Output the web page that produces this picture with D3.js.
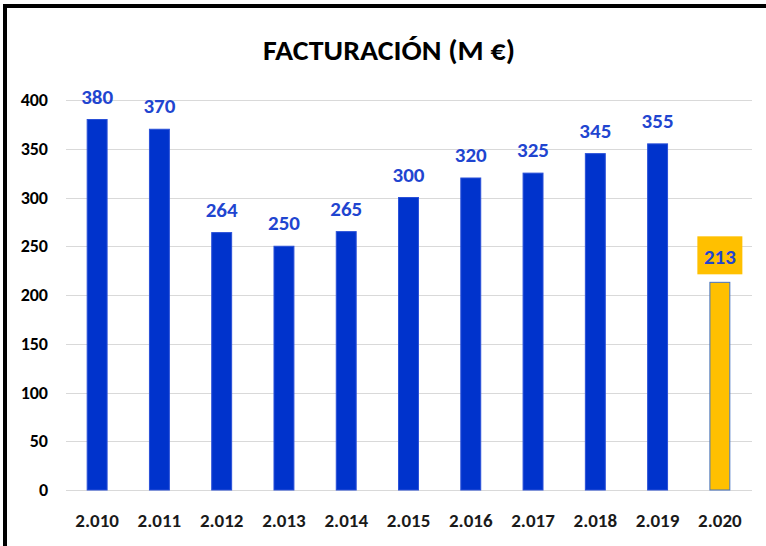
<!DOCTYPE html>
<html>
<head>
<meta charset="utf-8">
<script src="https://cdn.jsdelivr.net/npm/d3@7"></script>
<style>
  body { margin: 0; background: #fff; }
  svg { display: block; }
  text { font-family: Carlito, Lato, "Open Sans", sans-serif; font-weight: bold; }
</style>
</head>
<body>
<svg id="chart"></svg>
<script>
const years = ["2.010", "2.011", "2.012", "2.013", "2.014", "2.015", "2.016", "2.017", "2.018", "2.019", "2.020"];
const values = [380, 370, 264, 250, 265, 300, 320, 325, 345, 355, 213];
const yTicks = [0, 50, 100, 150, 200, 250, 300, 350, 400];
const highlightYear = "2.020";

const width = 766, height = 546;
const plotLeft = 66, plotRight = 752, plotTop = 100, plotBottom = 490;

const svg = d3.select("#chart").attr("width", width).attr("height", height);

// frame lines (left + top)
svg.append("rect").attr("x", 3).attr("y", 4).attr("width", 4).attr("height", height - 4).attr("fill", "#000");
svg.append("rect").attr("x", 3).attr("y", 4).attr("width", width - 3).attr("height", 4).attr("fill", "#000");

svg.append("text")
  .attr("x", 389).attr("y", 60)
  .attr("text-anchor", "middle")
  .attr("font-size", 29)
  .attr("textLength", 252).attr("lengthAdjust", "spacingAndGlyphs")
  .attr("fill", "#000")
  .text("FACTURACIÓN (M €)");

const x = d3.scaleBand().domain(years).range([plotLeft, plotRight - 1])
  .paddingInner(0.68).paddingOuter(0.34);
const y = d3.scaleLinear().domain([0, 400]).range([plotBottom, plotTop]);

// gridlines
svg.append("g").selectAll("line").data(yTicks).join("line")
  .attr("x1", plotLeft).attr("x2", plotRight)
  .attr("y1", d => Math.round(y(d)) + 0.5).attr("y2", d => Math.round(y(d)) + 0.5)
  .attr("stroke", "#d9d9d9").attr("stroke-width", 1);

// y tick labels
svg.append("g").selectAll("text").data(yTicks).join("text")
  .attr("x", 48).attr("y", d => y(d) + 6)
  .attr("text-anchor", "end")
  .attr("font-size", 18)
  .attr("fill", "#000")
  .text(d => d);

// bars
const data = years.map((yr, i) => ({ year: yr, value: values[i] }));
svg.append("g").selectAll("rect").data(data).join("rect")
  .attr("x", d => x(d.year))
  .attr("y", d => y(d.value))
  .attr("width", x.bandwidth())
  .attr("height", d => plotBottom - y(d.value))
  .attr("fill", d => d.year === highlightYear ? "#ffc000" : "#0033cc")
  .attr("stroke", d => d.year === highlightYear ? "#4472c4" : "#2a50d8")
  .attr("stroke-width", 1);

// label background for highlighted bar
const hl = data.find(d => d.year === highlightYear);
svg.append("rect")
  .attr("x", x(hl.year) + x.bandwidth() / 2 - 22.5)
  .attr("y", y(hl.value) - 46)
  .attr("width", 45).attr("height", 38)
  .attr("fill", "#ffc000");

// value labels
svg.append("g").selectAll("text").data(data).join("text")
  .attr("x", d => x(d.year) + x.bandwidth() / 2)
  .attr("y", d => y(d.value) - (d.year === highlightYear ? 18 : 16))
  .attr("text-anchor", "middle")
  .attr("font-size", 21)
  .attr("fill", "#1f45d0")
  .text(d => d.value);

// x labels
svg.append("g").selectAll("text").data(years).join("text")
  .attr("x", d => x(d) + x.bandwidth() / 2)
  .attr("y", 527)
  .attr("text-anchor", "middle")
  .attr("font-size", 19)
  .attr("fill", "#1a1a1a")
  .text(d => d);
</script>
</body>
</html>
